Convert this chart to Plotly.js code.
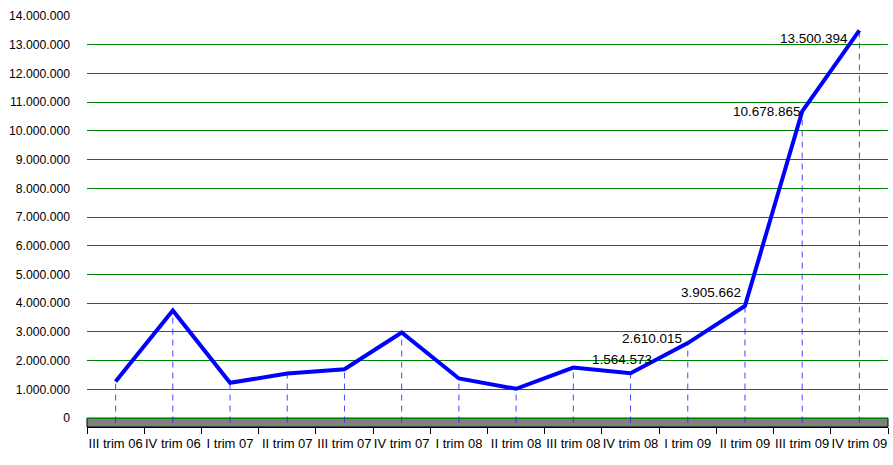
<!DOCTYPE html>
<html>
<head>
<meta charset="utf-8">
<script src="https://cdn.plot.ly/plotly-3.0.1.min.js"></script>
<style>
  html, body { margin: 0; padding: 0; background: #ffffff; }
  #chart { width: 893px; height: 465px; }
</style>
</head>
<body>
<div id="chart"></div>
<script>
// ---- data ----
const categories = ["III trim 06", "IV trim 06", "I trim 07", "II trim 07", "III trim 07", "IV trim 07",
                    "I trim 08", "II trim 08", "III trim 08", "IV trim 08", "I trim 09", "II trim 09",
                    "III trim 09", "IV trim 09"];
const values = [1270000, 3750000, 1230000, 1550000, 1700000, 2980000,
                1380000, 1020000, 1760000, 1564573, 2610015, 3905662,
                10678865, 13500394];
const labelledIdx = [9, 10, 11, 12, 13];
const yTickVals = [0, 1000000, 2000000, 3000000, 4000000, 5000000, 6000000, 7000000,
                   8000000, 9000000, 10000000, 11000000, 12000000, 13000000, 14000000];

// ---- styling ----
const labelStyle = [
  {xanchor: "center", xshift: -9, yshift: 14},
  {xanchor: "right", xshift: -4, yshift: 5},
  {xanchor: "right", xshift: -2, yshift: 13},
  {xanchor: "right", xshift: 1, yshift: 0},
  {xanchor: "right", xshift: -9, yshift: -8}
];
const fmt = v => Math.round(v).toString().replace(/\B(?=(\d{3})+(?!\d))/g, ".");
const yMin = -310000, yMax = 14000000;
const FONT = "Liberation Sans, Arial, sans-serif";

// drop lines built from the data
const dropX = [], dropY = [];
categories.forEach((c, i) => { dropX.push(c, c, null); dropY.push(yMin * 0.5, values[i], null); });

const traces = [
  {
    x: dropX, y: dropY, type: "scatter", mode: "lines",
    line: {color: "rgba(40,40,255,0.85)", width: 1, dash: "6px,5px"},
    hoverinfo: "skip", showlegend: false, connectgaps: false
  },
  {
    x: categories, y: values, type: "scatter", mode: "lines",
    line: {color: "#0000ff", width: 4},
    showlegend: false
  }
];

const annotations = labelledIdx.map((idx, k) => ({
  x: categories[idx], y: values[idx], xref: "x", yref: "y",
  text: fmt(values[idx]), showarrow: false,
  xanchor: labelStyle[k].xanchor, yanchor: "middle",
  xshift: labelStyle[k].xshift, yshift: labelStyle[k].yshift,
  font: {family: FONT, size: 13.5, color: "#000000"}
}));

const layout = {
  width: 893, height: 465,
  margin: {l: 87, r: 5, t: 16, b: 38},
  paper_bgcolor: "#ffffff", plot_bgcolor: "#ffffff",
  separators: ",.",
  font: {family: FONT, size: 13, color: "#000000"},
  showlegend: false,
  xaxis: {
    type: "category", categoryorder: "array", categoryarray: categories,
    range: [-0.5, categories.length - 0.5],
    showgrid: false, zeroline: false,
    showline: true, linecolor: "#000000", linewidth: 1,
    ticks: "outside", tickson: "boundaries", ticklen: 6, tickcolor: "#000000",
    tickangle: 0, automargin: false, ticklabelstandoff: 4,
    tickfont: {family: FONT, size: 13, color: "#000000"}
  },
  yaxis: {
    range: [yMin, yMax],
    tickvals: yTickVals, tickformat: ",d",
    showgrid: true, gridcolor: "#008000", gridwidth: 1,
    zeroline: false, showline: false, ticks: "",
    ticklabelstandoff: 16, automargin: false,
    tickfont: {family: FONT, size: 12.2, color: "#000000"}
  },
  shapes: [
    {type: "rect", xref: "paper", yref: "y", x0: 0, x1: 1, y0: yMin, y1: 0,
     fillcolor: "#808080", line: {color: "#000000", width: 1}, layer: "between"}
  ],
  annotations: annotations
};

Plotly.newPlot("chart", traces, layout, {displayModeBar: false, staticPlot: true});
</script>
</body>
</html>
